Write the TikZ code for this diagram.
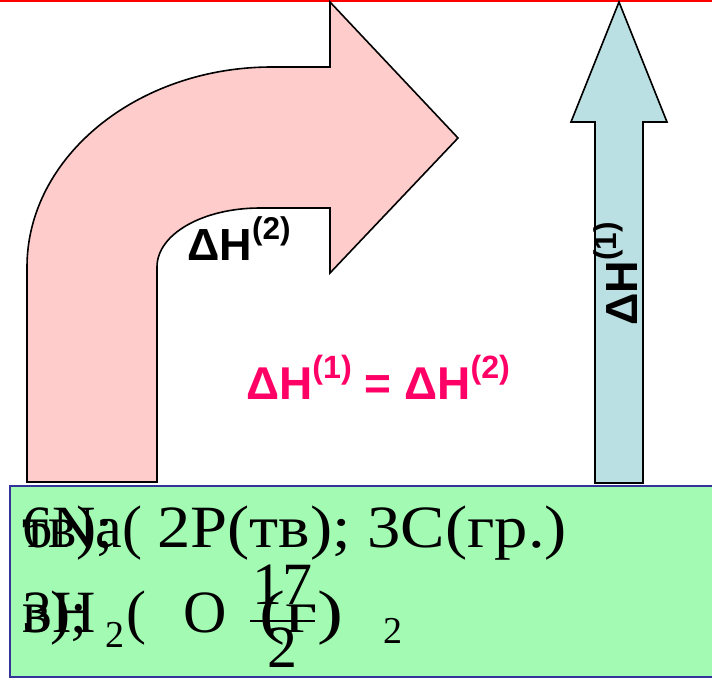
\documentclass[tikz,border=0pt]{standalone}
\usepackage{fontspec}
\usepackage{graphicx}
\setmainfont{Liberation Serif}
\newfontfamily\hfont{Liberation Sans}
\definecolor{rozh}{HTML}{FFCCCC}
\definecolor{blak}{HTML}{BBE0E3}
\definecolor{zel}{HTML}{A3FAB3}
\definecolor{ramka}{HTML}{333399}
\definecolor{malyn}{HTML}{FF0066}
\newcommand\idx[1]{\raisebox{0.45em}{\scalebox{0.7}{(#1)}}}
\begin{document}
\begin{tikzpicture}[
  x=1pt, y=-1pt,
  strilka/.style={draw=black, line width=1.6pt, line join=miter},
  dhlab/.style={font=\hfont\bfseries\fontsize{45}{50}\selectfont, inner sep=0pt},
  formula/.style={font=\fontsize{60}{66}\selectfont, inner sep=0pt, anchor=base west},
  indeks/.style={font=\fontsize{38}{42}\selectfont, inner sep=0pt, anchor=base west}
]
  \useasboundingbox (0,0) rectangle (712,678);

  % Червона лінія вгорі
  \draw[red, line width=2pt] (0,1) -- (712,1);

  % Зелений прямокутник
  \draw[ramka, fill=zel, line width=2pt] (10,486) rectangle (716,677);

  % Вигнута стрілка
  \draw[strilka, fill=rozh]
    (27,482) -- (27,267) .. controls (27,157) and (137,67) .. (272,67)
    -- (330,67) -- (330,2) -- (458,138) -- (330,273) -- (330,208)
    -- (260,208) .. controls (203,208) and (157,234) .. (157,267)
    -- (157,482) -- cycle;

  % Пряма стрілка
  \draw[strilka, fill=blak]
    (595,483) -- (595,122) -- (571,122) -- (619,2) -- (667,122)
    -- (643,122) -- (643,483) -- cycle;

  % Підписи
  \node[dhlab, anchor=base west] (dh2) at (187,260) {ΔH\idx{2}};
  \node[dhlab, rotate=90, anchor=base west] (dh1) at (637,326) {ΔH\idx{1}};
  \node[dhlab, text=malyn, anchor=base west, font=\hfont\bfseries\fontsize{46}{50}\selectfont]
    (rivn) at (246,399) {ΔH\idx{1} = ΔH\idx{2}};

  % Перший рядок
  \node[formula] (na) at (22,547) {6Na(};
  \node[formula] (tv) at (22,547) {тв);};
  \node[formula, xscale=1.11] (pc) at (157,547) {2P(тв); 3C(гр.)};

  % Другий рядок
  \node[formula] (h) at (22,632) {3H};
  \node[formula] (v) at (22,632) {в);};
  \node[indeks] (h2) at (105,647) {2};
  \node[formula] (dd) at (126,632) {(};
  \node[formula] (o) at (183,632) {O};
  \node[formula, anchor=base] (chys) at (282,604) {17};
  \node[formula, anchor=base] (znam) at (282,667) {2};
  \draw[line width=2.5pt] (250,621) -- (315,621);
  \node[formula, xscale=1.3] (g) at (259,632) {(г)};
  \node[indeks] (o2) at (383,643) {2};
\end{tikzpicture}
\end{document}
